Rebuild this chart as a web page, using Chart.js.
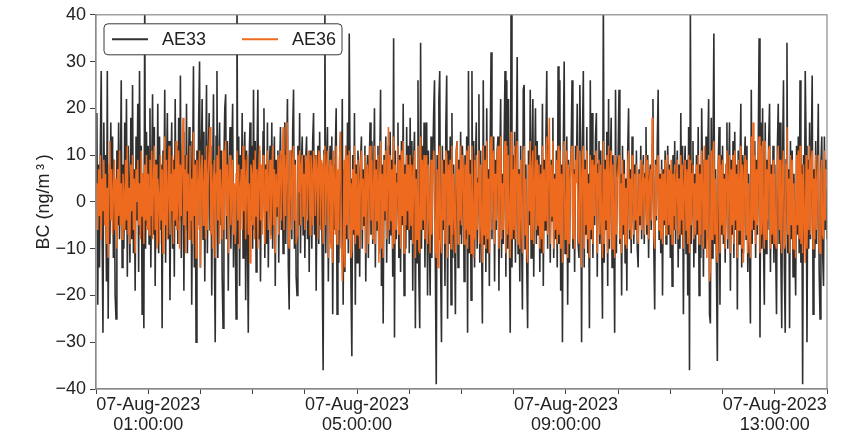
<!DOCTYPE html>
<html>
<head>
<meta charset="utf-8">
<script src="https://cdn.jsdelivr.net/npm/chart.js@4.4.0/dist/chart.umd.min.js"></script>
<style>
  html, body { margin: 0; padding: 0; background: #fff; }
</style>
</head>
<body>
<canvas id="bcChart" width="849" height="435"></canvas>
<script>
// 1-minute BC readings, 07-Aug-2023 00:00 -> 14:00
const ae33 = [
  3, 19, -22, 8, -14, 12, 28, -6, -28, 17, -4, 10, -17, 28, -25, 6, -9, 17, -3, 14,
  -12, 9, -20, -25, 11, -5, 17, -8, 4, 26, -14, 8, -10, 17, -6, 22, -16, 12, 3, -13,
  18, -8, 25, -11, 7, -19, 14, -4, 21, -15, 28, -7, 12, -24, 6, -27, 44, -10, 15, -5,
  12, -9, 20, -14, 5, 23, -7, 16, -18, 9, -3, 21, -11, 14, -6, 8, -27, 11, -2, 24,
  -13, 6, 19, -8, 13, -21, 4, 17, -10, 9, -16, 22, -5, 12, -9, 18, -4, 27, -12, 7,
  15, -19, 10, -6, 21, -11, 3, 16, -8, 13, -22, 6, 29, -14, 9, -30, 11, -5, 18, 30,
  -14, 10, 22, -8, 15, -17, 6, 25, -11, 8, 19, -6, 12, -20, 4, 23, -9, -30, 14, 28,
  -12, 7, 17, -5, 11, -16, -27, 9, 20, 23, -8, 13, -19, 5, 16, -10, 8, 21, -14, 3,
  -6, -25, 45, -9, 14, -18, 10, 2, 19, -12, 7, 15, -21, 11, -7, -28, 9, 17, -4, 12,
  -10, 24, -6, 13, -15, 9, 24, -8, 11, -17, 6, -4, 15, 20, -12, 8, -9, 17, -14, 5,
  12, -7, 17, -10, 4, 14, -18, 9, -3, 11, -13, 7, 16, -6, 10, -11, 5, 17, -9, 8,
  22, -14, -23, 11, 6, -8, 15, 24, -10, 9, -16, -20, 12, -5, 19, -11, 8, 14, -7, 10,
  -12, 9, 14, -8, 6, -15, 11, 3, -10, 13, 19, -7, 10, -19, 5, 12, -9, 15, -5, 8,
  -14, -36, 11, 42, -11, 7, 16, -17, 4, 12, -9, 14, -24, 8, -6, 11, 20, -24, 6, -13,
  9, 15, -10, 22, -22, 7, -15, 12, -8, 17, -11, 36, 5, -18, -33, 10, -7, 19, -22, 8,
  -13, 11, 6, -16, 9, 14, -10, 7, -5, 12, -17, 4, 10, -12, 8, 17, -7, 13, -9, 5,
  20, -14, 9, -6, 12, -11, 7, 24, -18, 8, -26, 10, -4, 14, -13, 6, 12, -9, 15, -7,
  9, -16, 35, -29, 11, -8, 6, 17, -12, 10, -15, 13, -5, 21, -20, 8, -10, 16, -6, 12,
  -11, 18, -8, 13, -19, 9, 15, -27, 7, -13, 26, -16, -27, 34, -10, 12, -6, 17, -14, 9,
  17, -20, 11, -7, -20, 14, -12, 8, 19, 26, -15, -39, 10, -8, 22, 28, -13, -30, 12, -6,
  9, -18, 16, 27, -25, 11, -9, 14, -22, 19, -12, 8, -5, -24, 11, 13, -14, 9, -7, 15,
  -9, 12, 6, -17, 10, -8, 14, -28, 28, -11, 9, -21, 28, -6, 13, -14, 8, 17, -10, 5,
  23, -13, 11, -7, -26, 26, -9, 12, -15, 20, -11, 7, -18, 13, 32, -8, 10, 14, -17, 9,
  -6, 11, 14, -19, 8, 22, -12, 6, -9, 13, 28, -16, 26, -10, 22, -7, -28, 48, -14, 10,
  -8, 15, -13, 9, 31, -11, 7, -17, 12, -6, -23, 24, 25, -10, 8, -14, -27, 11, -5, 24,
  -12, 9, 22, -16, 6, 20, -9, 13, -7, 10, -15, 8, -11, 21, -18, 9, -6, 14, 28, -10,
  12, 7, -13, 9, -4, 18, -12, 6, -8, 11, -14, 29, -9, 26, -19, 8, -30, 12, 30, -11,
  -8, 14, -22, 9, -13, 6, 11, 26, -10, 7, -15, 12, 5, 21, -9, -12, 25, 8, -30, 13,
  28, -14, 9, -7, 16, -11, 6, -27, 26, -8, 19, -12, 10, -5, 14, 19, -16, 8, 13, -9,
  11, -7, -25, 44, -13, 9, -6, 15, -18, 22, -10, 8, 18, -14, 10, -5, -28, 24, -11, 7,
  10, 24, -9, 6, -20, 12, -7, 9, -13, 5, -19, 11, 20, -8, 7, -11, 14, 4, -9, 8,
  -6, 11, -10, -14, 7, -5, 12, -8, 4, 10, -9, 6, 16, -7, 10, -12, 5, 8, -6, 12,
  22, -10, -23, 9, -4, 13, 24, -8, 6, -11, 9, -20, 7, -5, 11, -9, 4, 12, -7, 8,
  -12, 7, -18, 10, -6, 13, -9, 5, 11, -14, 8, -10, 19, -7, 12, -24, 6, 12, -11, 9,
  -20, 16, -36, 41, -9, 8, 13, -14, 6, -11, 10, -7, 16, -20, 8, -12, 20, 5, -16, 9,
  -10, 14, -8, 11, 22, -24, -26, 18, -12, 10, 36, -9, 7, -15, -34, 8, 16, -22, 10, -7,
  12, -9, 6, -13, 8, 17, -10, 5, 17, -19, 9, -7, 13, -12, 15, -6, 8, -23, 11, -9,
  7, 21, -14, 10, -11, 8, 14, -8, 12, -15, 6, -10, -26, 24, -9, 11, -6, 13, -12, 9,
  -7, 12, 35, -29, 17, -10, 20, -8, -22, 17, -11, 9, -6, 13, 21, -15, 8, -9, 12, -13,
  8, -10, -24, 12, 21, -9, 17, -12, -27, 10, 26, -14, -28, 9, 34, -11, 7, -27, 13, -8,
  11, -16, 6, -9, -20, 12, -7, 14, -11, 26, -13, 8, -39, 10, -6, 28, 12, -30, 9, -10,
  17, -8, 11, 27, -24, 7, -12, 13, -9, 6, 21, -15, -25, 8, 14, -11, -18, 14, -6, 9,
  -8
];

const ae36 = [
  0, 4, -6, 7, -3, 10, -8, 5, -2, 9, -5, 6, -9, 3, -12, 8, 13, -4, 7, -7,
  2, 9, -6, 5, -10, 7, -3, 11, -5, 4, -8, 6, 1, -6, 9, -4, 12, -7, 3, -9,
  8, -2, 10, -6, 5, -11, 7, 0, 9, -5, 4, -8, 11, -3, 6, -9, 8, -4, 10, -6,
  6, -7, 9, -3, 11, -8, 4, 12, -6, 8, -10, 5, 1, -9, 10, -4, 7, -11, 6, 14,
  -5, 9, -8, 3, 12, -7, 6, -2, 10, -9, 7, -4, 13, -6, 2, 11, -10, 8, -3, 9,
  18, -5, 7, -11, 10, -2, 6, -8, 12, -4, 5, -9, 15, -3, 8, -12, 9, -6, 4, 11,
  -14, 7, 10, -5, 3, 9, -8, 12, -6, 5, 11, 16, -7, 8, -10, 4, 9, -12, 6, 10,
  -4, 12, -9, 7, 2, -8, 11, -6, 5, 13, -3, 8, -11, 6, 10, -5, 2, 9, -7, 4,
  -9, 6, 11, -4, 8, -10, 3, 7, -6, 12, -2, 9, -8, 5, 10, -7, 4, -13, 8, 6,
  -5, 9, -8, 11, -3, 7, -10, 6, 12, -4, 8, -7, 10, 3, -9, 7, -2, 11, -6, 5,
  9, -8, 4, 12, -5, 7, -11, 6, -1, 10, -7, 8, 11, -4, 9, 16, -6, 10, -3, 7,
  17, -8, -10, 11, 5, -6, 9, 12, -4, 8, -9, -7, 10, 2, 11, -5, 8, 10, -3, 6,
  -6, 10, 9, -4, 11, 8, -7, 10, 6, -5, 11, 9, -3, 10, 7, -8, 11, 10, -6, 9,
  8, -9, 10, 12, -5, 7, 11, -12, 6, 9, -10, 8, -13, 11, 4, -7, 12, -9, 7, -6,
  10, 15, -8, -17, -11, 9, -14, 12, -5, 10, -8, 11, 4, -12, -10, 7, -6, 12, -9, 6,
  -7, 9, 4, -10, 8, 11, -6, 5, -3, 10, -11, 6, 8, -9, 7, 12, -4, 9, -8, 3,
  12, -9, 7, -4, 10, -13, 5, 13, -10, 6, -12, 9, -2, 11, -8, 5, 16, -6, 10, -4,
  7, -10, 14, -9, 8, -6, 4, 12, -7, 9, -10, 11, -3, 13, -11, 6, -5, 10, -2, 8,
  -6, 10, -5, 8, -9, 7, 11, -12, 5, -8, 12, -10, -11, 14, -6, 9, -4, 10, -8, 7,
  10, -9, 8, -3, -11, 9, -7, 5, 11, 8, -10, -12, 7, -14, 10, 12, -8, -11, 9, -4,
  6, -9, 11, 10, -12, 8, -5, 9, -10, 12, -7, 6, -3, -11, 9, 13, -9, 7, -4, 12,
  -5, 10, 7, -9, 8, -6, 11, -10, 12, -7, 6, -11, 12, -4, -12, 9, -8, 10, -6, 4,
  11, -9, 8, -5, -13, 12, -7, 9, -10, 13, -8, 5, -11, 10, 14, -6, 7, 11, -9, 6,
  -4, 9, 12, -10, 5, 14, -8, 4, -6, 10, 13, -11, 12, -7, 10, -5, -12, 15, -8, 7,
  -6, 12, -8, 7, 13, -9, 6, -10, 9, -3, -11, 10, 12, -7, 5, -10, -13, 8, -2, 13,
  -8, 7, 11, -9, 4, 12, -6, 9, -5, 8, -10, 6, -8, 12, -11, 7, -4, 10, 14, -7,
  9, 18, -9, 8, -3, 13, -10, 5, -6, 9, -9, 12, -7, 11, -10, 6, -13, 9, 13, -8,
  -7, 11, -12, 8, -9, 5, 10, 12, -8, 6, -10, 9, 4, 12, -7, -9, 11, 6, -14, 10,
  12, -10, 7, -5, 11, -8, 4, -12, 10, -6, 9, -9, 8, -3, 10, 11, -11, 6, 9, -7,
  8, -5, -12, 13, -9, 7, -4, 10, -11, 12, -8, 6, 11, -10, 8, -3, -12, 10, -7, 5,
  7, 10, -8, 4, -11, 9, -5, 6, -9, 3, -10, 8, 11, -6, 5, -8, 10, 2, -7, 6,
  -4, 8, -7, -9, 6, -3, 9, -6, 4, 8, -7, 5, 10, -5, 9, -8, 4, 7, -4, 18,
  11, -7, -10, 8, -3, 9, 10, -6, 5, -8, 7, -9, 6, -4, 9, -7, 3, 10, -5, 7,
  -7, 9, -9, 6, -3, 8, -6, 4, 9, -8, 5, -7, 10, -4, 8, -10, 3, 9, -6, 7,
  -9, 10, -11, 9, -5, 6, 8, -8, 4, -7, 8, -4, 10, -9, 6, -7, 11, 3, -10, 12,
  -6, 9, -12, 7, 10, -17, -14, 11, -8, 11, 13, -7, 5, -10, -13, 7, 10, -11, 8, -5,
  9, -7, 5, -10, 8, 11, -8, 4, 10, -11, 7, -5, 10, -9, 11, -4, 6, -12, 9, -6,
  5, 12, -10, 8, -13, 6, 10, -7, 9, -11, 4, -8, -12, 14, -6, 17, -4, 10, -9, 7,
  -5, 10, 14, -11, 12, -7, 13, -5, -10, 13, -8, 7, -4, 11, 12, -10, 6, -7, 9, -9,
  6, -9, -10, 8, 12, -6, 9, -8, -11, 7, 11, -10, -9, 8, 16, -7, 5, -11, 10, -5,
  9, -10, 4, -7, -12, 10, -5, 11, -8, 12, -9, 6, -11, 8, -4, -13, 10, -10, 7, -6,
  12, -7, 9, 11, -10, 5, -8, 10, -6, 4, 10, -9, -11, 6, 9, -7, -8, 11, -4, 7,
  3
];

const seriesLabels = ['AE33', 'AE36'];
const seriesColors = ['rgba(30, 30, 30, 0.92)', '#ee6a1f'];
const minutesPerPoint = 1;
const xMinMinutes = 0;
const xMaxMinutes = 840;
const tickMinutes = [60, 300, 540, 780];
const tickDates = ['07-Aug-2023', '07-Aug-2023', '07-Aug-2023', '07-Aug-2023'];
const tickTimes = ['01:00:00', '05:00:00', '09:00:00', '13:00:00'];

const fontFamily = '"Liberation Sans", Arial, sans-serif';
const toPoints = arr => arr.map((v, i) => ({ x: i * minutesPerPoint, y: v }));

// matplotlib-style box around the axes
const framePlugin = {
  id: 'frame',
  afterDatasetsDraw(chart) {
    const a = chart.chartArea;
    const ctx = chart.ctx;
    ctx.save();
    ctx.strokeStyle = '#8a8a8a';
    ctx.lineWidth = 1.2;
    ctx.strokeRect(a.left, a.top, a.right - a.left, a.bottom - a.top);
    ctx.restore();
  }
};

// opaque legend box in the upper left corner, drawn over the lines
const boxLegendPlugin = {
  id: 'boxLegend',
  afterDraw(chart) {
    const a = chart.chartArea;
    const ctx = chart.ctx;
    const x0 = a.left + 8, y0 = a.top + 9, w = 238, h = 31, r = 4;
    ctx.save();
    ctx.beginPath();
    ctx.moveTo(x0 + r, y0);
    ctx.arcTo(x0 + w, y0, x0 + w, y0 + h, r);
    ctx.arcTo(x0 + w, y0 + h, x0, y0 + h, r);
    ctx.arcTo(x0, y0 + h, x0, y0, r);
    ctx.arcTo(x0, y0, x0 + w, y0, r);
    ctx.closePath();
    ctx.fillStyle = '#ffffff';
    ctx.fill();
    ctx.strokeStyle = '#3a3a3a';
    ctx.lineWidth = 1;
    ctx.stroke();

    ctx.font = '18px ' + fontFamily;
    ctx.textBaseline = 'middle';
    const cy = y0 + h / 2;
    chart.data.datasets.forEach((ds, i) => {
      const lx = x0 + 8 + i * 130;
      ctx.strokeStyle = ds.borderColor;
      ctx.lineWidth = 2;
      ctx.beginPath();
      ctx.moveTo(lx, cy);
      ctx.lineTo(lx + 36, cy);
      ctx.stroke();
      ctx.fillStyle = '#222';
      ctx.fillText(ds.label, lx + 50, cy + 1);
    });
    ctx.restore();
  }
};

const ctx = document.getElementById('bcChart').getContext('2d');
new Chart(ctx, {
  type: 'line',
  data: {
    datasets: [
      {
        label: seriesLabels[0],
        data: toPoints(ae33),
        borderColor: seriesColors[0],
        borderWidth: 1.6,
        pointRadius: 0,
        tension: 0,
        order: 2
      },
      {
        label: seriesLabels[1],
        data: toPoints(ae36),
        borderColor: seriesColors[1],
        borderWidth: 1.5,
        pointRadius: 0,
        tension: 0,
        order: 1
      }
    ]
  },
  options: {
    responsive: false,
    animation: false,
    layout: { padding: { top: 13, right: 22, left: 0, bottom: 0 } },
    scales: {
      x: {
        type: 'linear',
        min: xMinMinutes,
        max: xMaxMinutes,
        afterFit: scale => { scale.height = 46; },
        border: { color: '#8a8a8a', width: 1.2 },
        grid: { drawOnChartArea: false, tickLength: 5, color: '#444' },
        ticks: {
          stepSize: 60,
          autoSkip: false,
          maxRotation: 0,
          padding: 1,
          color: '#222',
          font: { family: fontFamily, size: 18, lineHeight: 1.11 },
          callback: value => {
            const k = tickMinutes.indexOf(value);
            return k >= 0 ? [tickDates[k], tickTimes[k]] : '';
          }
        }
      },
      y: {
        min: -40,
        max: 40,
        afterFit: scale => { scale.width = 96; },
        border: { color: '#8a8a8a', width: 1.2 },
        grid: { drawOnChartArea: false, tickLength: 6, color: '#444' },
        title: {
          display: true,
          text: 'BC (ng/m\u2009³\u2009)',
          color: '#222',
          padding: { top: 33, bottom: 0 },
          font: { family: fontFamily, size: 18 }
        },
        ticks: {
          stepSize: 10,
          padding: 4,
          color: '#222',
          font: { family: fontFamily, size: 18 },
          callback: v => (v < 0 ? '\u2212' + Math.abs(v) : String(v))
        }
      }
    },
    plugins: {
      legend: { display: false },
      tooltip: { enabled: false }
    }
  },
  plugins: [framePlugin, boxLegendPlugin]
});
</script>
</body>
</html>
